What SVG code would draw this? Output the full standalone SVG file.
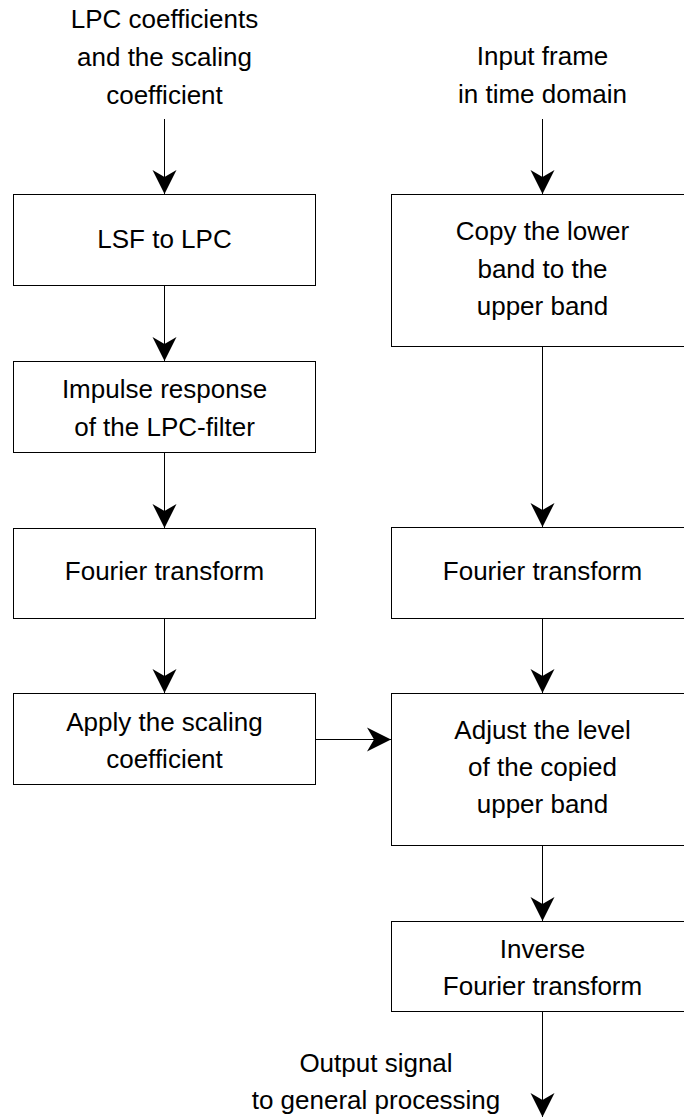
<svg xmlns="http://www.w3.org/2000/svg" width="684" height="1118" viewBox="0 0 684 1118">
<style>
.box{fill:#fff;stroke:#000;stroke-width:1}
.t{font-family:"Liberation Sans",Arial,sans-serif;font-size:26px;fill:#000;text-anchor:middle}
.c{stroke:#000;stroke-width:1;fill:none;marker-end:url(#arr)}
</style>
<defs>
<marker id="arr" markerUnits="userSpaceOnUse" markerWidth="26" markerHeight="26" refX="24" refY="12" orient="auto" overflow="visible">
<path d="M24,12 L0,0 L7,12 L0,24 Z" fill="#000"/>
</marker>
</defs>
<rect width="684" height="1118" fill="#fff"/>
<g id="in-lpc">
<text class="t" x="164.5" y="28">LPC coefficients</text>
<text class="t" x="164.5" y="66">and the scaling</text>
<text class="t" x="164.5" y="104">coefficient</text>
</g>
<g id="in-frame">
<text class="t" x="542.5" y="65">Input frame</text>
<text class="t" x="542.5" y="103">in time domain</text>
</g>
<g id="lsf">
<rect class="box" x="13.5" y="194.5" width="302" height="91"/>
<text class="t" x="164.5" y="248">LSF to LPC</text>
</g>
<g id="impulse">
<rect class="box" x="13.5" y="361.5" width="302" height="91"/>
<text class="t" x="164.5" y="398">Impulse response</text>
<text class="t" x="164.5" y="436">of the LPC-filter</text>
</g>
<g id="fourier-l">
<rect class="box" x="13.5" y="528.5" width="302" height="90"/>
<text class="t" x="164.5" y="580">Fourier transform</text>
</g>
<g id="apply">
<rect class="box" x="13.5" y="693.5" width="302" height="91"/>
<text class="t" x="164.5" y="731">Apply the scaling</text>
<text class="t" x="164.5" y="768">coefficient</text>
</g>
<g id="copy">
<rect class="box" x="391.5" y="194.5" width="302" height="152"/>
<text class="t" x="542.5" y="240">Copy the lower</text>
<text class="t" x="542.5" y="277.5">band to the</text>
<text class="t" x="542.5" y="315">upper band</text>
</g>
<g id="fourier-r">
<rect class="box" x="391.5" y="527.5" width="302" height="91"/>
<text class="t" x="542.5" y="580">Fourier transform</text>
</g>
<g id="adjust">
<rect class="box" x="391.5" y="693.5" width="302" height="152"/>
<text class="t" x="542.5" y="739">Adjust the level</text>
<text class="t" x="542.5" y="776">of the copied</text>
<text class="t" x="542.5" y="813">upper band</text>
</g>
<g id="inverse">
<rect class="box" x="391.5" y="921.5" width="302" height="90"/>
<text class="t" x="542.5" y="958">Inverse</text>
<text class="t" x="542.5" y="995">Fourier transform</text>
</g>
<g id="out">
<text class="t" x="376" y="1072">Output signal</text>
<text class="t" x="376" y="1109">to general processing</text>
</g>
<g id="connectors">
<path class="c" d="M164.5,119 V194"/>
<path class="c" d="M164.5,285.5 V361"/>
<path class="c" d="M164.5,452.5 V528"/>
<path class="c" d="M164.5,618.5 V693"/>
<path class="c" d="M542.5,119 V194"/>
<path class="c" d="M542.5,346.5 V527"/>
<path class="c" d="M542.5,618.5 V693"/>
<path class="c" d="M542.5,845.5 V921"/>
<path class="c" d="M542.5,1011.5 V1117"/>
<path class="c" d="M315.5,739.5 H391"/>
</g>
</svg>
